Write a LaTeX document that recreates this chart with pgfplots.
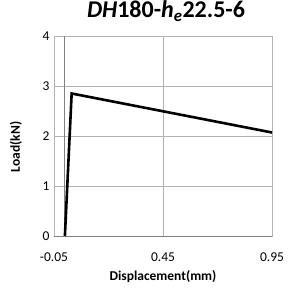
\documentclass[border=0pt]{standalone}
\usepackage{pgfplots}
\pgfplotsset{compat=1.18}
\usepackage{fontspec}
\setmainfont{Carlito}
\begin{document}
\begin{tikzpicture}
\useasboundingbox (-54pt,-53pt) rectangle (237pt,236pt);
\begin{axis}[
  at={(0pt,0pt)}, anchor=south west,
  scale only axis, width=218pt, height=200pt,
  xmin=-0.05, xmax=0.95, ymin=0, ymax=4,
  xtick={-0.05,0.45,0.95}, xticklabels={-0.05,0.45,0.95},
  ytick={0,1,2,3,4}, yticklabels={0,1,2,3,4},
  major tick length=0pt,
  grid=major,
  grid style={draw=black!30, line width=0.8pt},
  axis line style={draw=black!30, line width=0.8pt},
  tick label style={font=\fontsize{13.5}{15}\selectfont},
  /pgf/number format/assume math mode=true,
  xticklabel style={anchor=base, yshift=-25pt},
  yticklabel style={anchor=east, xshift=-1pt},
  title={\fontsize{24}{28}\selectfont\bfseries\itshape DH\upshape180-\itshape h\textsubscript{e}\upshape22.5-6},
  title style={at={(axis description cs:0.5,1)}, anchor=base, yshift=12pt, xshift=3pt},
  xlabel={\fontsize{13.5}{15}\selectfont\bfseries Displacement(mm)},
  xlabel style={at={(axis description cs:0.5,0)}, anchor=base, yshift=-44pt},
  ylabel={\fontsize{13.5}{15}\selectfont\bfseries Load(kN)},
  ylabel style={at={(axis description cs:-0.156,0.445)}, anchor=base},
  clip=false,
]
\addplot[draw=black!50, line width=0.9pt] coordinates {(0,0) (0,4)};
\draw[draw=black!50, line width=0.9pt] (axis cs:-0.05,0) -- (axis cs:0.95,0);
\addplot[black, line width=2.6pt, line join=miter] coordinates {(0,0) (0.031,2.85) (0.95,2.07)};
\end{axis}
\end{tikzpicture}
\end{document}
